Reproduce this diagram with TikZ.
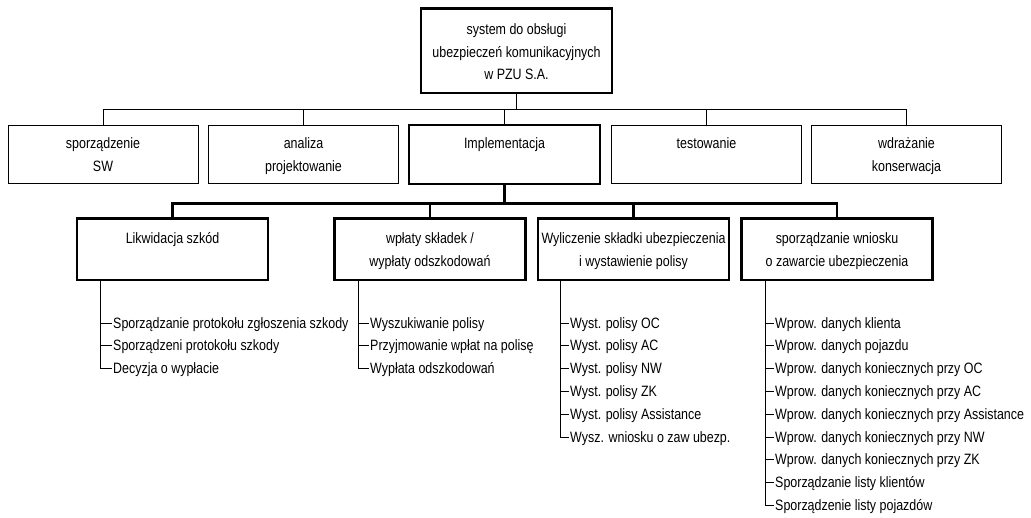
\documentclass[tikz,border=0pt]{standalone}
\usepackage{fontspec}
\setmainfont{Liberation Sans}[FakeStretch=0.83]
\begin{document}
\begin{tikzpicture}[x=1pt,y=-1pt,
  thinline/.style={line width=0.9pt},
  thickline/.style={line width=2.8pt},
  boxthin/.style={draw, line width=0.9pt, minimum width=190pt, minimum height=58pt, inner sep=0},
  boxthick/.style={draw, line width=2.8pt, minimum width=191pt, minimum height=61.5pt, inner sep=0},
  lbl/.style={anchor=north, align=center, inner sep=0, font=\fontsize{15}{23}\selectfont, execute at begin node=\rule{0pt}{11pt}},
  toplbl/.style={anchor=north, align=center, inner sep=0, font=\fontsize{15}{22.5}\selectfont, execute at begin node=\rule{0pt}{11pt}},
  item/.style={anchor=base west, inner sep=1pt, text height=12pt, text depth=2pt, font=\fontsize{15}{18}\selectfont}
]
\useasboundingbox (0,0) rectangle (1031,517);

% top
\node[boxthick, minimum width=191pt, minimum height=84.5pt] (top) at (516.5,50.75) {};
\node[toplbl] (topt) at (516.5,23.5) {system do obsługi\\ubezpieczeń komunikacyjnych\\w PZU S.A.};

% level 2
\node[boxthin] (sw) at (103,154) {};
\node[lbl] (swt) at (sw.center |- 0,137) {sporządzenie\\SW};
\node[boxthin] (an) at (303.5,154) {};
\node[lbl] (ant) at (an.center |- 0,137) {analiza\\projektowanie};
\node[boxthick, minimum height=59pt] (impl) at (504.5,154.5) {};
\node[lbl] (implt) at (impl.center |- 0,137) {Implementacja};
\node[boxthin] (test) at (706.5,154) {};
\node[lbl] (testt) at (test.center |- 0,137) {testowanie};
\node[boxthin] (wdr) at (906.5,154) {};
\node[lbl] (wdrt) at (wdr.center |- 0,137) {wdrażanie\\konserwacja};

% level 3
\node[boxthick] (lik) at (172.5,249.3) {};
\node[lbl] (likt) at (lik.center |- 0,232.5) {Likwidacja szkód};
\node[boxthick] (wpl) at (430,249.3) {};
\node[lbl] (wplt) at (wpl.center |- 0,232.5) {wpłaty składek /\\wypłaty odszkodowań};
\node[boxthick] (wyl) at (633.5,249.3) {};
\node[lbl] (wylt) at (wyl.center |- 0,232.5) {Wyliczenie składki ubezpieczenia\\i wystawienie polisy};
\node[boxthick] (spw) at (837,249.3) {};
\node[lbl] (spwt) at (spw.center |- 0,232.5) {sporządzanie wniosku\\o zawarcie ubezpieczenia};

% connectors level 1 -> 2
\coordinate (bus1) at (0,109);
\draw[thinline] (top.south) -- (top.south |- bus1);
\foreach \n in {sw,an,impl,test,wdr}
  \draw[thinline] (top.south |- bus1) -| (\n.north);

% connectors impl -> level 3
\coordinate (bus2) at (0,203.3);
\draw[thickline] (impl.south) -- (impl.south |- bus2);
\foreach \n in {lik,wpl,wyl,spw}
  \draw[thickline] (impl.south |- bus2) -| (\n.north);

% lists
\coordinate (vA) at (100.5,0);
\coordinate (vB) at (358,0);
\coordinate (vC) at (560,0);
\coordinate (vD) at (765,0);

\foreach \t [count=\i] in {Sporządzanie protokołu zgłoszenia szkody,Sporządzeni protokołu szkody,Decyzja o wypłacie}
  \node[item] (a\i) at (112,{328+22.8*(\i-1)}) {\t};
\foreach \t [count=\i] in {Wyszukiwanie polisy,Przyjmowanie wpłat na polisę,Wypłata odszkodowań}
  \node[item] (b\i) at (369,{328+22.8*(\i-1)}) {\t};
\foreach \t [count=\i] in {Wyst. polisy OC,Wyst. polisy AC,Wyst. polisy NW,Wyst. polisy ZK,Wyst. polisy Assistance,Wysz. wniosku o zaw ubezp.}
  \node[item] (c\i) at (569,{328+22.8*(\i-1)}) {\t};
\foreach \t [count=\i] in {Wprow. danych klienta,Wprow. danych pojazdu,Wprow. danych koniecznych przy OC,Wprow. danych koniecznych przy AC,Wprow. danych koniecznych przy Assistance,Wprow. danych koniecznych przy NW,Wprow. danych koniecznych przy ZK,Sporządzanie listy klientów,Sporządzenie listy pojazdów}
  \node[item] (d\i) at (774,{328+22.8*(\i-1)}) {\t};

\draw[thinline] (lik.south -| vA) |- (a3.west);
\foreach \i in {1,2} \draw[thinline] (vA |- a\i.west) -- (a\i.west);
\draw[thinline] (wpl.south -| vB) |- (b3.west);
\foreach \i in {1,2} \draw[thinline] (vB |- b\i.west) -- (b\i.west);
\draw[thinline] (wyl.south -| vC) |- (c6.west);
\foreach \i in {1,...,5} \draw[thinline] (vC |- c\i.west) -- (c\i.west);
\draw[thinline] (spw.south -| vD) |- (d9.west);
\foreach \i in {1,...,8} \draw[thinline] (vD |- d\i.west) -- (d\i.west);
\end{tikzpicture}
\end{document}
